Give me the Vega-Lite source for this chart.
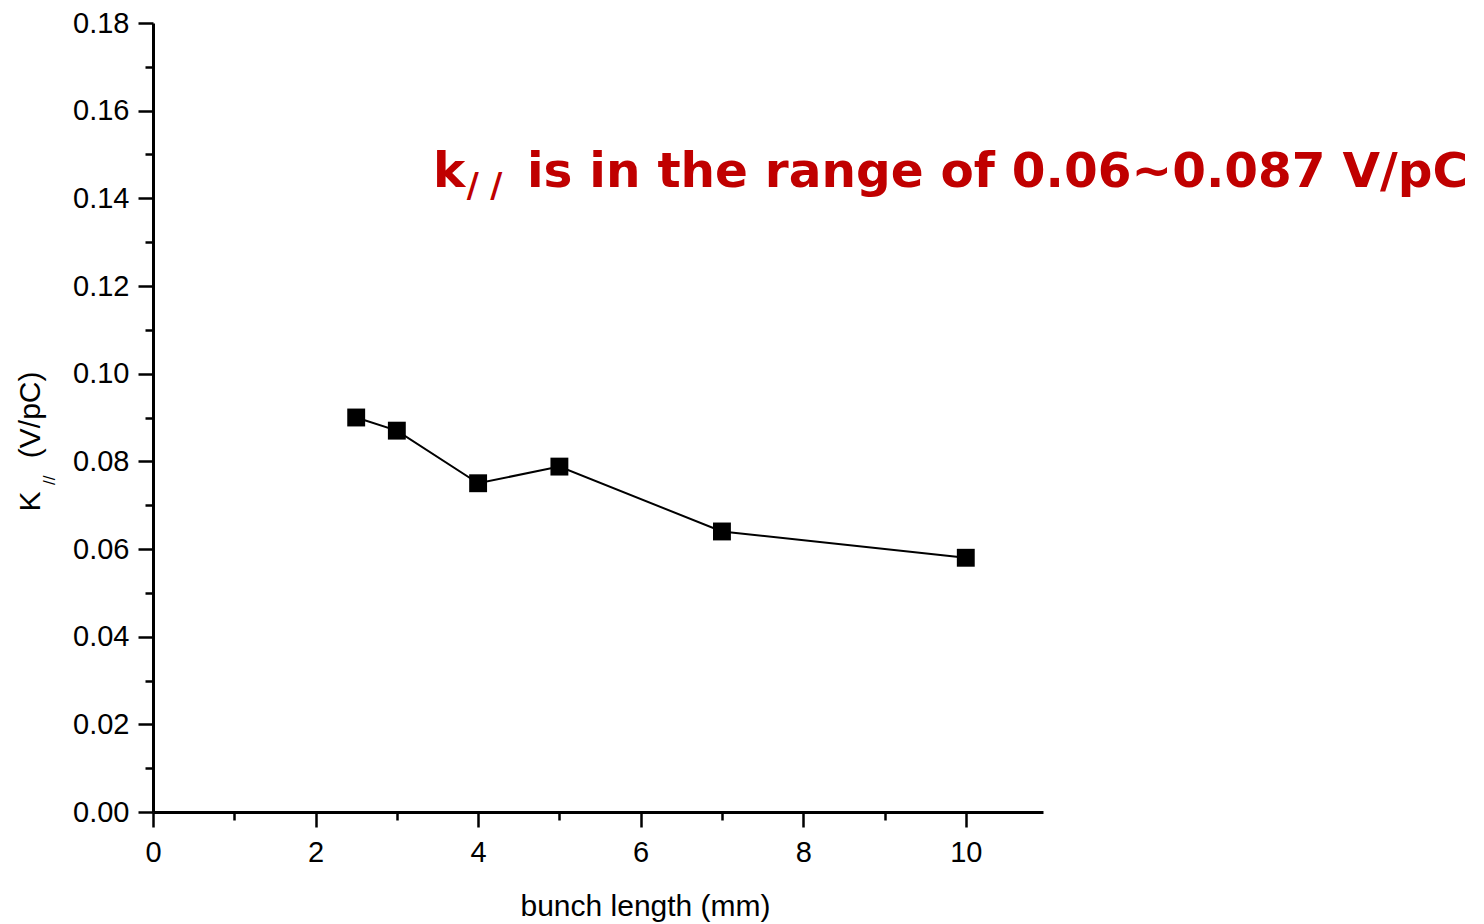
{
  "$schema": "https://vega.github.io/schema/vega-lite/v6.json",
  "width": 890,
  "height": 789,
  "autosize": {"type": "none"},
  "padding": {"left": 153, "top": 23, "right": 441, "bottom": 112},
  "background": "white",
  "config": {
    "view": {"stroke": null},
    "axis": {"grid": false, "domainColor": "black", "tickColor": "black", "labelColor": "black", "titleColor": "black", "labelFont": "Liberation Sans", "titleFont": "Liberation Sans", "labelFontSize": 29, "titleFontSize": 30, "titleFontWeight": "normal", "domainWidth": 3, "tickWidth": 2.5, "labelFlush": false}
  },
  "datasets": {
    "pts": [
      {"bunch_length": 2.5, "k": 0.0900},
      {"bunch_length": 3, "k": 0.0870},
      {"bunch_length": 4, "k": 0.0750},
      {"bunch_length": 5, "k": 0.0788},
      {"bunch_length": 7, "k": 0.0640},
      {"bunch_length": 10, "k": 0.0580}
    ]
  },
  "resolve": {"axis": {"x": "independent", "y": "independent"}},
  "layer": [
    {
      "data": {"name": "pts"},
      "mark": {"type": "point", "opacity": 0},
      "encoding": {
        "x": {"field": "bunch_length", "type": "quantitative", "scale": {"domain": [0, 10.95], "nice": false, "zero": false},
          "axis": {"orient": "bottom", "values": [1, 3, 5, 7, 9], "labels": false, "tickSize": 8, "domain": false, "title": null}},
        "y": {"field": "k", "type": "quantitative", "scale": {"domain": [0, 0.18], "nice": false},
          "axis": {"orient": "left", "values": [0.01, 0.03, 0.05, 0.07, 0.09, 0.11, 0.13, 0.15, 0.17], "labels": false, "tickSize": 8, "domain": false, "title": null}}
      }
    },
    {
      "data": {"name": "pts"},
      "mark": {"type": "line", "color": "black", "strokeWidth": 2},
      "encoding": {
        "x": {"field": "bunch_length", "type": "quantitative", "scale": {"domain": [0, 10.95], "nice": false, "zero": false},
          "axis": {"orient": "bottom", "values": [0, 2, 4, 6, 8, 10], "tickSize": 15, "labelPadding": 11, "title": "bunch length (mm)", "titleX": 492, "titleY": 103, "titleBaseline": "alphabetic", "titleAnchor": "middle", "titleAlign": "center"}},
        "y": {"field": "k", "type": "quantitative", "scale": {"domain": [0, 0.18], "nice": false},
          "axis": {"orient": "left", "values": [0, 0.02, 0.04, 0.06, 0.08, 0.1, 0.12, 0.14, 0.16, 0.18], "format": ".2f", "tickSize": 15, "labelPadding": 9, "title": "K\u00a0\u00a0\u00a0\u00a0(V/pC)", "titleX": -114, "titleY": 418, "titleBaseline": "alphabetic", "titleAngle": 270, "titleAlign": "center"}}
      }
    },
    {
      "data": {"name": "pts"},
      "mark": {"type": "point", "shape": "square", "filled": true, "color": "black", "opacity": 1, "size": 320},
      "encoding": {
        "x": {"field": "bunch_length", "type": "quantitative", "axis": null},
        "y": {"field": "k", "type": "quantitative", "axis": null}
      }
    },
    {
      "data": {"values": [{"label": "//", "x": -1.27, "y": 0.0757}]},
      "mark": {"type": "text", "font": "Liberation Sans", "fontSize": 17, "angle": 270, "align": "center", "baseline": "middle", "color": "black", "clip": false},
      "encoding": {
        "x": {"field": "x", "type": "quantitative", "axis": null},
        "y": {"field": "y", "type": "quantitative", "axis": null},
        "text": {"field": "label"}
      }
    },
    {
      "data": {"values": [{"label": "k", "x": 3.445, "y": 0.1426}]},
      "mark": {"type": "text", "font": "DejaVu Sans", "fontWeight": "bold", "fontSize": 48.5, "align": "left", "baseline": "alphabetic", "color": "#c00000", "clip": false},
      "encoding": {
        "x": {"field": "x", "type": "quantitative", "axis": null},
        "y": {"field": "y", "type": "quantitative", "axis": null},
        "text": {"field": "label"}
      }
    },
    {
      "data": {"values": [{"label": "/ /", "x": 3.86, "y": 0.1403}]},
      "mark": {"type": "text", "font": "DejaVu Sans", "fontWeight": "bold", "fontSize": 33, "align": "left", "baseline": "alphabetic", "color": "#c00000", "clip": false},
      "encoding": {
        "x": {"field": "x", "type": "quantitative", "axis": null},
        "y": {"field": "y", "type": "quantitative", "axis": null},
        "text": {"field": "label"}
      }
    },
    {
      "data": {"values": [{"label": "is in the range of 0.06~0.087 V/pC", "x": 4.601, "y": 0.1426}]},
      "mark": {"type": "text", "font": "DejaVu Sans", "fontWeight": "bold", "fontSize": 48.5, "align": "left", "baseline": "alphabetic", "color": "#c00000", "clip": false},
      "encoding": {
        "x": {"field": "x", "type": "quantitative", "axis": null},
        "y": {"field": "y", "type": "quantitative", "axis": null},
        "text": {"field": "label"}
      }
    }
  ]
}
